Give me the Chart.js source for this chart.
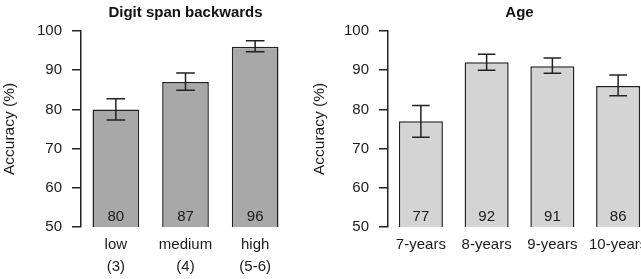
<!DOCTYPE html>
<html>
<head>
<meta charset="utf-8">
<script src="https://cdn.jsdelivr.net/npm/chart.js@4"></script>
<style>
  html, body { margin: 0; padding: 0; background: #fff; overflow: hidden; width: 641px; height: 279px; }
  #spanChart { position: absolute; left: 0; top: 0; }
  #ageChart { position: absolute; left: 307px; top: 0; }
</style>
</head>
<body>
<canvas id="spanChart" width="310" height="279"></canvas>
<canvas id="ageChart" width="350" height="279"></canvas>
<script>
// Digit span backwards panel
const spanLabels = [['low', '(3)'], ['medium', '(4)'], ['high', '(5-6)']];
const spanValues = [80, 87, 96];
const spanLow = [77.3, 84.9, 94.7];
const spanHigh = [82.7, 89.3, 97.5];

// Age panel
const ageLabels = ['7-years', '8-years', '9-years', '10-years'];
const ageValues = [77, 92, 91, 86];
const ageLow = [72.9, 90.0, 89.2, 83.5];
const ageHigh = [81.0, 94.1, 93.1, 88.8];

Chart.defaults.font.family = '"Liberation Sans", Arial, sans-serif';
Chart.defaults.color = '#1a1a1a';

// error bars + value printed at the bottom of each bar
const barExtras = {
    id: 'barExtras',
    afterDatasetsDraw(chart, args, opts) {
        const ctx = chart.ctx;
        const meta = chart.getDatasetMeta(0);
        const y = chart.scales.y;
        const values = chart.data.datasets[0].data;
        ctx.save();
        ctx.strokeStyle = '#222';
        ctx.lineWidth = 1.5;
        meta.data.forEach((bar, i) => {
            const yl = y.getPixelForValue(opts.low[i]);
            const yh = y.getPixelForValue(opts.high[i]);
            const half = bar.width * 0.2;
            ctx.beginPath();
            ctx.moveTo(bar.x, yl); ctx.lineTo(bar.x, yh);
            ctx.moveTo(bar.x - half, yl); ctx.lineTo(bar.x + half, yl);
            ctx.moveTo(bar.x - half, yh); ctx.lineTo(bar.x + half, yh);
            ctx.stroke();

            ctx.fillStyle = '#1a1a1a';
            ctx.font = '15px "Liberation Sans", Arial, sans-serif';
            ctx.textAlign = 'center';
            ctx.textBaseline = 'middle';
            ctx.fillText(String(values[i]), bar.x, y.getPixelForValue(50) - 10);
        });
        ctx.restore();
    }
};

function makeChart(id, labels, values, low, high, fill, title, yTitlePad, rightPad) {
    const ctx = document.getElementById(id).getContext('2d');
    return new Chart(ctx, {
        type: 'bar',
        data: {
            labels: labels,
            datasets: [{
                data: values,
                backgroundColor: fill,
                borderColor: '#222',
                borderWidth: 1.5,
                borderSkipped: false,
                categoryPercentage: 1,
                barPercentage: 0.67
            }]
        },
        options: {
            responsive: false,
            animation: false,
            layout: { padding: { left: 0, right: rightPad, top: 0, bottom: 0 } },
            plugins: {
                legend: { display: false },
                tooltip: { enabled: false },
                title: {
                    display: true,
                    text: title,
                    fullSize: false,
                    color: '#111',
                    font: { size: 15, weight: 'bold' },
                    padding: { top: 4, bottom: 9 }
                },
                barExtras: { low: low, high: high }
            },
            scales: {
                x: {
                    grid: { display: false, drawTicks: false },
                    border: { display: false },
                    ticks: { font: { size: 15, lineHeight: 1.45 }, padding: 7, maxRotation: 0, autoSkip: false },
                    afterFit(s) { s.height = 52; }
                },
                y: {
                    min: 50,
                    max: 100,
                    ticks: { stepSize: 10, font: { size: 15 }, padding: 10 },
                    grid: { drawOnChartArea: false, tickLength: 9, color: '#222', lineWidth: 1.5 },
                    border: { display: true, color: '#222', width: 1.5 },
                    title: {
                        display: true,
                        text: 'Accuracy (%)',
                        font: { size: 15.5 },
                        padding: { top: yTitlePad, bottom: 0 }
                    },
                    afterFit(s) { s.width = 81; }
                }
            }
        },
        plugins: [barExtras]
    });
}

makeChart('spanChart', spanLabels, spanValues, spanLow, spanHigh, '#a8a8a8', 'Digit span backwards', 0, 20);
makeChart('ageChart', ageLabels, ageValues, ageLow, ageHigh, '#d4d4d4', 'Age', 3, 6);
</script>
</body>
</html>
